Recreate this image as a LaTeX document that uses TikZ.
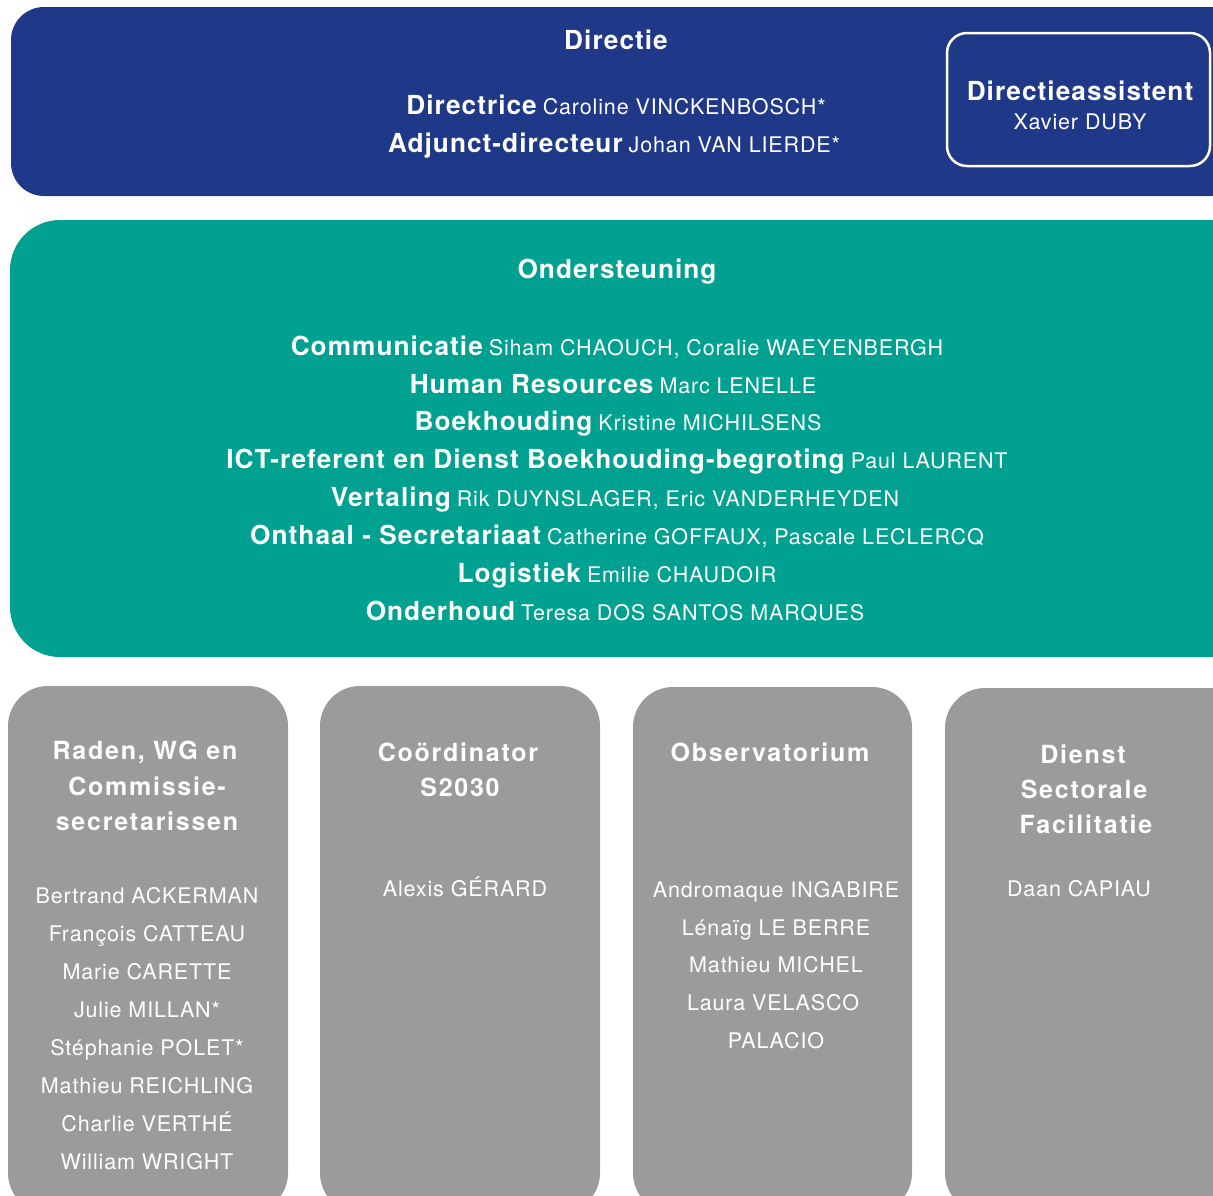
\documentclass[tikz,border=0pt]{standalone}
\usepackage{fontspec}
\setmainfont{TeX Gyre Heros}
\newfontfamily\hbfont[LetterSpace=4]{TeX Gyre Heros}
\newfontfamily\hhfont[LetterSpace=7]{TeX Gyre Heros}
\newfontfamily\nmfont[LetterSpace=4]{TeX Gyre Heros}
\newcommand\mybold[1]{{\hbfont\bfseries\fontsize{26.2}{31}\selectfont #1}}
\newcommand\myhead[1]{{\hhfont\bfseries\fontsize{25}{30}\selectfont #1}}
\newcommand\myname[1]{{\nmfont\fontsize{21.5}{26}\selectfont #1}}
\newcommand\myentry[2]{\mybold{#1}\hspace{6pt}\myname{#2}}
\definecolor{dblue}{RGB}{32,56,136}
\definecolor{teal}{RGB}{0,161,144}
\definecolor{grey}{RGB}{155,155,155}
\begin{document}
\begin{tikzpicture}[x=1pt,y=-1pt,
  txt/.style={text=white,anchor=base,inner sep=0pt,align=center},
  bluebox/.style={fill=dblue,rounded corners=33pt},
  tealbox/.style={fill=teal,rounded corners=50pt},
  greybox/.style={fill=grey,rounded corners=40pt},
  asstbox/.style={draw=white,line width=2.5pt,rounded corners=20pt}]
\useasboundingbox (0,0) rectangle (1213,1195);
\clip (0,0) rectangle (1213,1195);
% boxes
\path[bluebox] (11,7) rectangle (1245,196);
\path[asstbox] (947,33) rectangle (1210,166);
\path[tealbox] (10,220) rectangle (1265,657);
\path[greybox] (8,686) rectangle (288,1213);
\path[greybox] (320,686) rectangle (600,1213);
\path[greybox] (633,687) rectangle (912,1213);
\path[greybox] (945,688) rectangle (1260,1213);
% Directie
\node[txt] (dirtitle) at (616,49) {\mybold{Directie}};
\node[txt] (dir1) at (616,114) {\myentry{Directrice}{Caroline VINCKENBOSCH*}};
\node[txt] (dir2) at (614,152) {\myentry{Adjunct-directeur}{Johan VAN LIERDE*}};
\node[txt] (asst1) at (1080,100) {\mybold{Directieassistent}};
\node[txt] (asst2) at (1080,129) {\myname{Xavier DUBY}};
% Ondersteuning
\node[txt] (ondtitle) at (617,278) {\mybold{Ondersteuning}};
\node[txt] (ond1) at (617,355) {\myentry{Communicatie}{Siham CHAOUCH, Coralie WAEYENBERGH}};
\node[txt] (ond2) at (613,393) {\myentry{Human Resources}{Marc LENELLE}};
\node[txt] (ond3) at (618,430) {\myentry{Boekhouding}{Kristine MICHILSENS}};
\node[txt] (ond4) at (617,468) {\myentry{ICT-referent en Dienst Boekhouding-begroting}{Paul LAURENT}};
\node[txt] (ond5) at (615,506) {\myentry{Vertaling}{Rik DUYNSLAGER, Eric VANDERHEYDEN}};
\node[txt] (ond6) at (617,544) {\myentry{Onthaal - Secretariaat}{Catherine GOFFAUX, Pascale LECLERCQ}};
\node[txt] (ond7) at (617,582) {\myentry{Logistiek}{Emilie CHAUDOIR}};
\node[txt] (ond8) at (615,620) {\myentry{Onderhoud}{Teresa DOS SANTOS MARQUES}};
% Box 1
\node[txt] (r1) at (145,759) {\myhead{Raden, WG en}};
\node[txt] (r2) at (147,795) {\myhead{Commissie-}};
\node[txt] (r3) at (147,830) {\myhead{secretarissen}};
\node[txt] (rn1) at (147,903) {\myname{Bertrand ACKERMAN}};
\node[txt] (rn2) at (147,941) {\myname{François CATTEAU}};
\node[txt] (rn3) at (147,979) {\myname{Marie CARETTE}};
\node[txt] (rn4) at (147,1017) {\myname{Julie MILLAN*}};
\node[txt] (rn5) at (147,1055) {\myname{Stéphanie POLET*}};
\node[txt] (rn6) at (147,1093) {\myname{Mathieu REICHLING}};
\node[txt] (rn7) at (147,1131) {\myname{Charlie VERTHÉ}};
\node[txt] (rn8) at (147,1169) {\myname{William WRIGHT}};
% Box 2
\node[txt] (c1) at (458,761) {\myhead{Coördinator}};
\node[txt] (c2) at (460,796) {\myhead{S2030}};
\node[txt] (cn1) at (465,896) {\myname{Alexis GÉRARD}};
% Box 3
\node[txt] (o1) at (770,761) {\myhead{Observatorium}};
\node[txt] (on1) at (776,897) {\myname{Andromaque INGABIRE}};
\node[txt] (on2) at (776,935) {\myname{Lénaïg LE BERRE}};
\node[txt] (on3) at (776,972) {\myname{Mathieu MICHEL}};
\node[txt] (on4) at (773,1010) {\myname{Laura VELASCO}};
\node[txt] (on5) at (776,1048) {\myname{PALACIO}};
% Box 4
\node[txt] (d1) at (1083,763) {\myhead{Dienst}};
\node[txt] (d2) at (1084,798) {\myhead{Sectorale}};
\node[txt] (d3) at (1086,833) {\myhead{Facilitatie}};
\node[txt] (dn1) at (1079,896) {\myname{Daan CAPIAU}};
\end{tikzpicture}
\end{document}
